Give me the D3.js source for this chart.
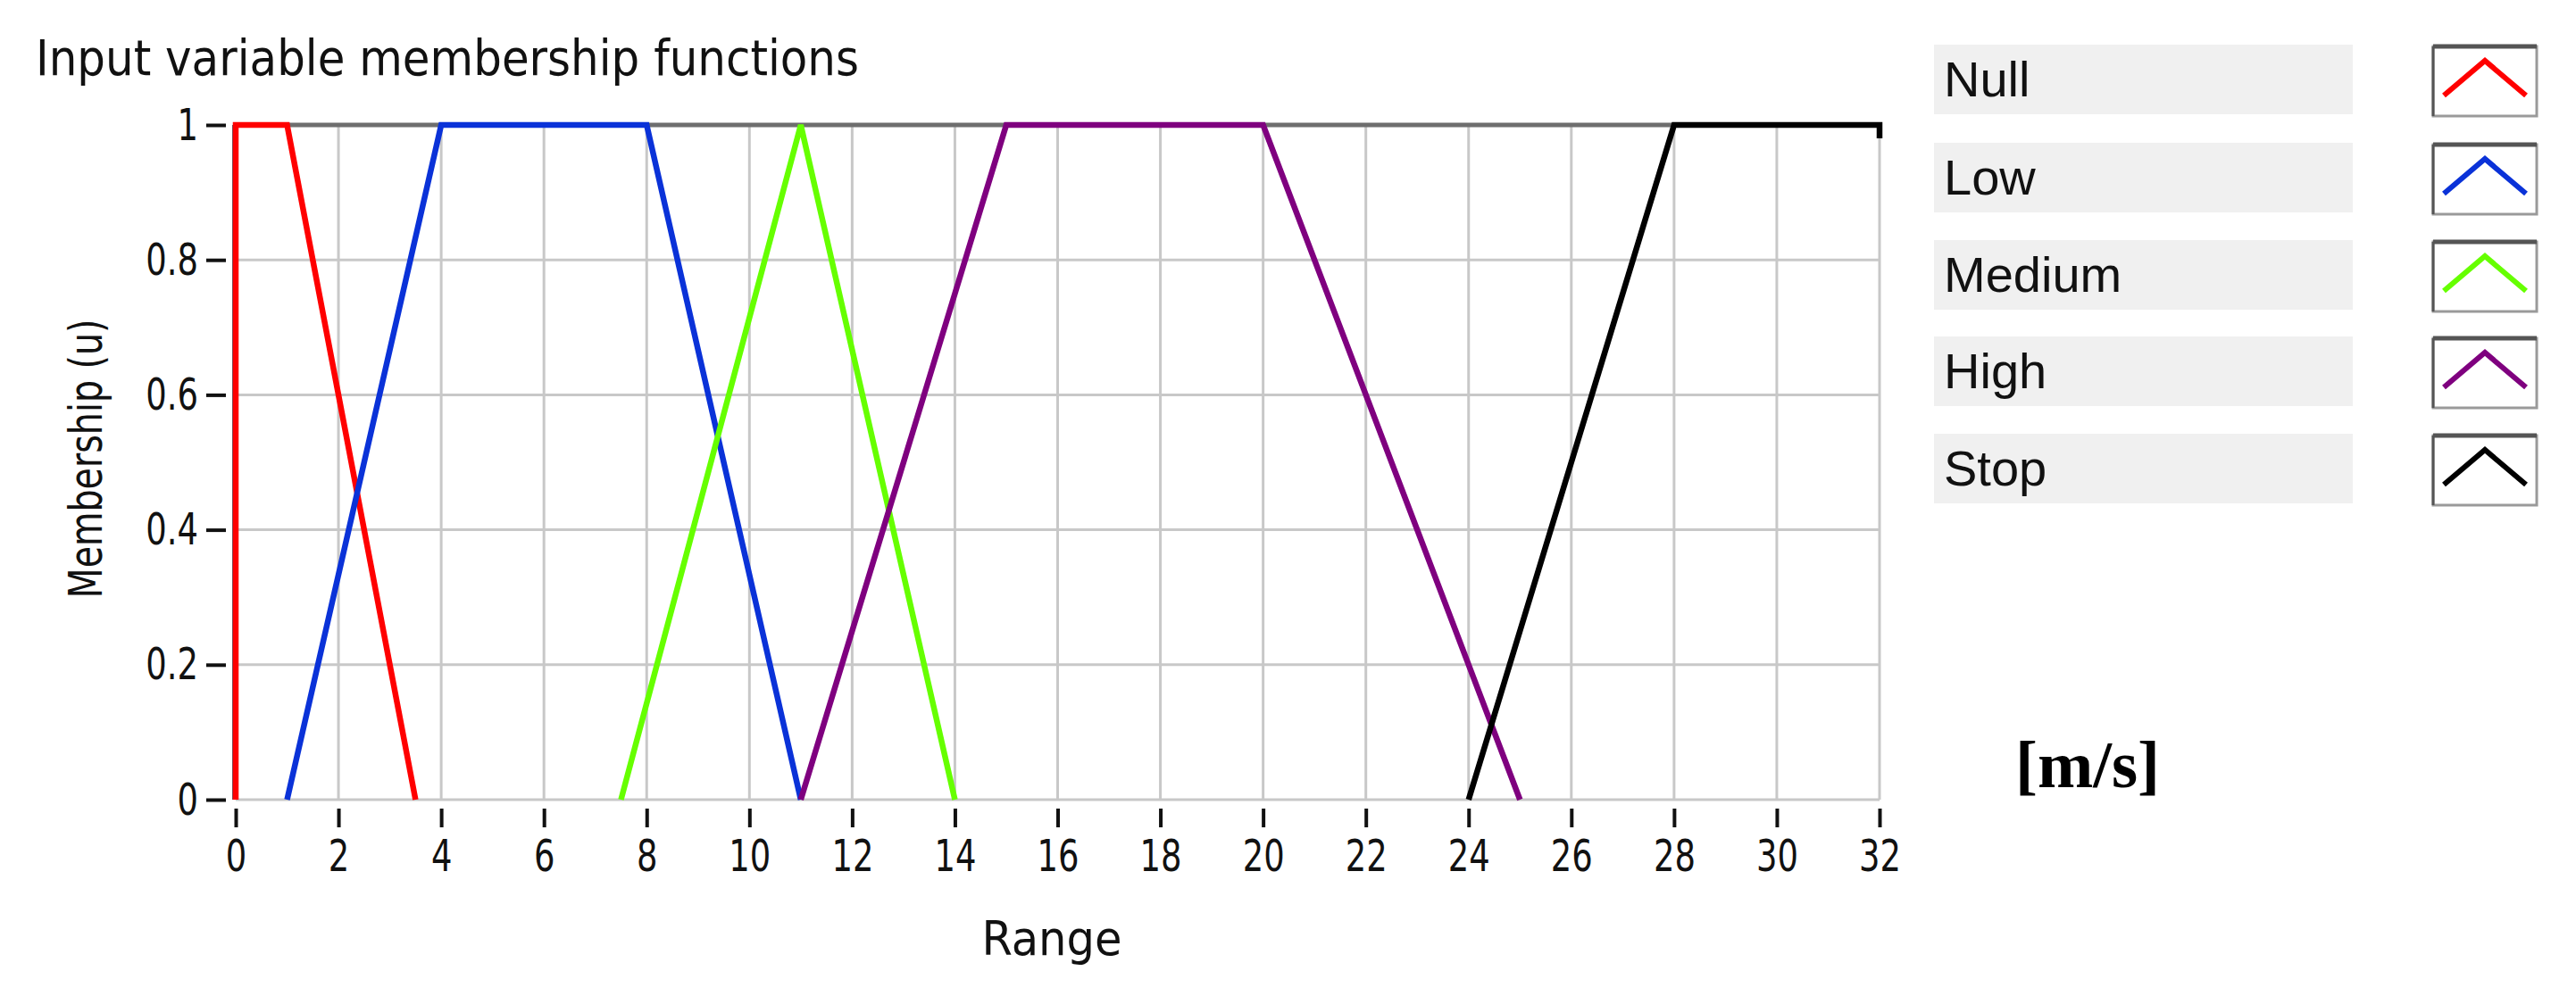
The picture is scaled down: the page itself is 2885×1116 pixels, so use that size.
<!DOCTYPE html>
<html><head><meta charset="utf-8">
<script src="https://cdn.jsdelivr.net/npm/d3@7"></script>
<style>html,body{margin:0;padding:0;background:#fff;}</style>
</head><body>
<svg id="chart" width="2885" height="1116"></svg>
<script>
// ---- data ----
const seriesNames = ["Null", "Low", "Medium", "High", "Stop"];
const seriesColors = ["#ff0000", "#0a32d8", "#66ff00", "#7f007f", "#000000"];
const nullX = [0, 0, 1, 3.5];
const nullY = [0, 1, 1, 0];
const lowX = [1, 4, 8, 11];
const lowY = [0, 1, 1, 0];
const mediumX = [7.5, 11, 14];
const mediumY = [0, 1, 0];
const highX = [11, 15, 20, 25];
const highY = [0, 1, 1, 0];
const stopX = [24, 28, 32, 32];
const stopY = [0, 1, 1, 0.98];
const xTicks = [0,2,4,6,8,10,12,14,16,18,20,22,24,26,28,30,32];
const yTicks = [0, 0.2, 0.4, 0.6, 0.8, 1];
const yTickLabels = ["0", "0.2", "0.4", "0.6", "0.8", "1"];
const titleText = "Input variable membership functions";
const yTitle = "Membership (u)";
const xTitle = "Range";
const unitText = "[m/s]";

const seriesX = [nullX, lowX, mediumX, highX, stopX];
const seriesY = [nullY, lowY, mediumY, highY, stopY];

// ---- layout ----
const svg = d3.select("#chart");
const L = 264, R = 2105, T = 140, B = 896;
const x = d3.scaleLinear().domain([0, 32]).range([L, R]);
const y = d3.scaleLinear().domain([0, 1]).range([B, T]);
const narrowFont = "'DejaVu Sans Condensed', 'Liberation Sans Narrow', 'Liberation Sans', sans-serif";
const uiFont = "'Liberation Sans', Arial, sans-serif";

// grid
const grid = svg.append("g");
grid.selectAll("line.v").data(xTicks).join("line")
  .attr("x1", d => x(d)).attr("x2", d => x(d)).attr("y1", T).attr("y2", B)
  .attr("stroke", "#c8c8c8").attr("stroke-width", 3);
grid.selectAll("line.h").data(yTicks).join("line")
  .attr("x1", L).attr("x2", R).attr("y1", d => y(d)).attr("y2", d => y(d))
  .attr("stroke", "#c8c8c8").attr("stroke-width", 3);
svg.append("line").attr("x1", L).attr("x2", R).attr("y1", T).attr("y2", T)
  .attr("stroke", "#6e6e6e").attr("stroke-width", 5);
svg.append("line").attr("x1", L - 3).attr("x2", L - 3).attr("y1", T).attr("y2", B)
  .attr("stroke", "#5a5a6a").attr("stroke-width", 2);

function squeeze(sel, f) {
  sel.each(function () {
    const w = this.getComputedTextLength();
    d3.select(this).attr("textLength", w * f).attr("lengthAdjust", "spacingAndGlyphs");
  });
}

// y axis
const yAxis = d3.axisLeft(y).tickValues(yTicks)
  .tickFormat((d, i) => yTickLabels[i]).tickSize(22).tickPadding(9);
const gy = svg.append("g").attr("transform", `translate(${L - 11},0)`).call(yAxis);
gy.select(".domain").remove();
gy.selectAll(".tick line").attr("stroke", "#111").attr("stroke-width", 4);
gy.selectAll(".tick text").attr("font-family", narrowFont).attr("font-size", 50)
  .attr("fill", "#111").call(squeeze, 0.82);

// x axis
const xAxis = d3.axisBottom(x).tickValues(xTicks).tickFormat(d3.format("d"))
  .tickSize(21).tickPadding(13);
const gx = svg.append("g").attr("transform", `translate(0,${B + 10})`).call(xAxis);
gx.select(".domain").remove();
gx.selectAll(".tick line").attr("stroke", "#111").attr("stroke-width", 4);
gx.selectAll(".tick text").attr("font-family", narrowFont).attr("font-size", 50)
  .attr("fill", "#111").call(squeeze, 0.82);

// series lines
const lineGen = d3.line().x(d => x(d[0])).y(d => y(d[1]));
seriesNames.forEach((name, i) => {
  const pts = seriesX[i].map((v, j) => [v, seriesY[i][j]]);
  svg.append("path").datum(pts).attr("d", lineGen)
    .attr("fill", "none").attr("stroke", seriesColors[i])
    .attr("stroke-width", 6.5).attr("stroke-linejoin", "miter");
});

// titles
svg.append("text").attr("x", 40).attr("y", 84).text(titleText)
  .attr("font-family", narrowFont).attr("font-size", 56).attr("fill", "#111")
  .attr("textLength", 922).attr("lengthAdjust", "spacingAndGlyphs");
svg.append("text").attr("transform", `translate(114,${(T + B) / 2 - 4}) rotate(-90)`)
  .attr("text-anchor", "middle").text(yTitle)
  .attr("font-family", narrowFont).attr("font-size", 52).attr("fill", "#111")
  .attr("textLength", 313).attr("lengthAdjust", "spacingAndGlyphs");
svg.append("text").attr("x", 1178).attr("y", 1070).attr("text-anchor", "middle").text(xTitle)
  .attr("font-family", narrowFont).attr("font-size", 54).attr("fill", "#111")
  .attr("textLength", 157).attr("lengthAdjust", "spacingAndGlyphs");

// unit label
svg.append("text").attr("x", 2257).attr("y", 882).text(unitText)
  .attr("font-family", "'Liberation Serif', 'Times New Roman', serif")
  .attr("font-weight", "bold").attr("font-size", 74).attr("fill", "#000")
  .attr("textLength", 162).attr("lengthAdjust", "spacingAndGlyphs");

// legend
const legRowTop = [50, 160, 269, 377, 486];
const leg = svg.append("g");
seriesNames.forEach((name, i) => {
  const ty = legRowTop[i];
  leg.append("rect").attr("x", 2166).attr("y", ty).attr("width", 469).attr("height", 78)
    .attr("fill", "#f0f0f0");
  leg.append("text").attr("x", 2177).attr("y", ty + 58).text(name)
    .attr("font-family", uiFont).attr("font-size", 56).attr("fill", "#111");
  const bx = 2725, by = ty + 2, bw = 116, bh = 78;
  leg.append("rect").attr("x", bx).attr("y", by).attr("width", bw).attr("height", bh)
    .attr("fill", "#fff").attr("stroke", "#9a9a9a").attr("stroke-width", 3);
  leg.append("line").attr("x1", bx).attr("x2", bx + bw).attr("y1", by).attr("y2", by)
    .attr("stroke", "#555").attr("stroke-width", 5);
  leg.append("line").attr("x1", bx).attr("x2", bx).attr("y1", by).attr("y2", by + bh)
    .attr("stroke", "#555").attr("stroke-width", 3);
  leg.append("path")
    .attr("d", `M${bx + 12},${by + 55} L${bx + 58},${by + 16} L${bx + 104},${by + 55}`)
    .attr("fill", "none").attr("stroke", seriesColors[i]).attr("stroke-width", 6);
});
</script>
</body></html>
